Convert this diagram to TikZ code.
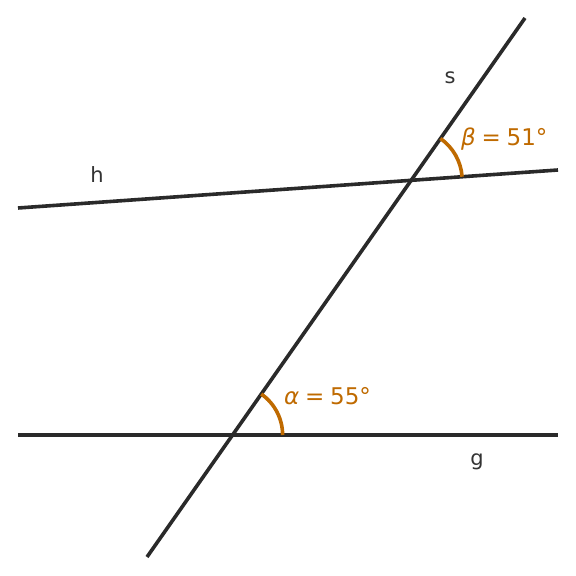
\documentclass[tikz,border=0pt]{standalone}
\usepackage{fontspec}
\setmainfont{DejaVu Sans}
\begin{document}
\begin{tikzpicture}[x=1pt,y=1pt,
  ln/.style={line width=3.6pt,draw={rgb,255:red,42;green,42;blue,42}},
  ang/.style={line width=3.6pt,draw={rgb,255:red,191;green,106;blue,0}},
  lbl/.style={text={rgb,255:red,51;green,51;blue,51},font=\fontsize{21}{25}\selectfont,inner sep=0pt},
  albl/.style={text={rgb,255:red,191;green,106;blue,0},font=\fontsize{23}{27}\selectfont,inner sep=0pt,anchor=west}]
\useasboundingbox (0,0) rectangle (576,576);
\coordinate (g1) at (18,141);
\coordinate (g2) at (558,141);
\coordinate (h1) at (18,368);
\coordinate (h2) at (558,406);
\coordinate (s1) at (147,19);
\coordinate (s2) at (525,558);
\coordinate (A) at (232.6,141);
\coordinate (B) at (411.2,395.7);
\draw[ln] (g1) -- (g2);
\draw[ln] (h1) -- (h2);
\draw[ln] (s1) -- (s2);
\draw[ang] (A) ++(50,0) arc[start angle=0,end angle=55,radius=50];
\draw[ang] (B) ++(4.03:51) arc[start angle=4.03,end angle=55,radius=51];
\node[lbl] (ls) at (450,498) {s};
\node[lbl] (lh) at (97,401) {h};
\node[lbl] (lg) at (477,114) {g};
\node[albl] (la) at (284,180) {\textit{α}\hspace{0.25em}=\hspace{0.25em}55°};
\node[albl] (lb) at (461,437) {\textit{β}\hspace{0.25em}=\hspace{0.25em}51°};
\end{tikzpicture}
\end{document}
